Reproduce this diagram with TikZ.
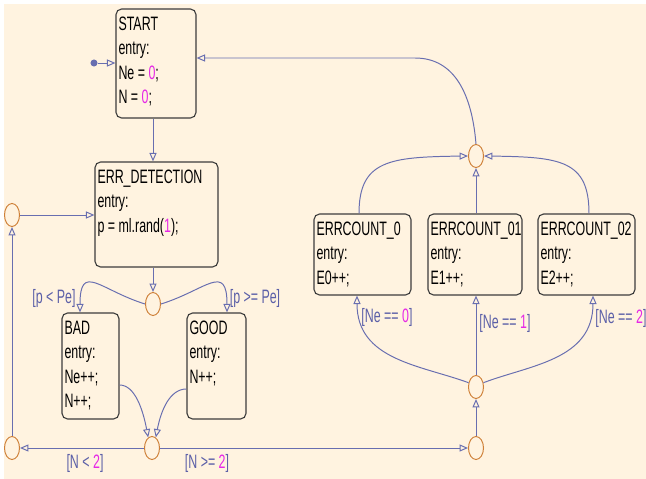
\documentclass[tikz,border=0pt]{standalone}
\usepackage{fontspec}
\setmainfont{Liberation Sans}[FakeStretch=0.64]
\usetikzlibrary{arrows.meta,shapes.geometric}
\definecolor{bg}{RGB}{255,243,224}
\definecolor{wire}{RGB}{104,110,176}
\definecolor{lbltext}{RGB}{92,96,168}
\definecolor{num}{RGB}{230,40,230}
\definecolor{jring}{RGB}{206,128,56}
\definecolor{frame}{RGB}{60,60,60}

\begin{document}
\begin{tikzpicture}[x=0.025cm,y=-0.025cm,
    font=\fontsize{13.8}{17.4}\selectfont,
    state/.style={draw=frame,line width=0.8pt,rounded corners=4pt,rectangle,inner sep=0pt},
    txt/.style={inner sep=1pt,align=left,anchor=north west},
    junc/.style={draw=jring,line width=0.7pt,ellipse,inner sep=0pt,minimum width=0.375cm,minimum height=0.575cm},
    tr/.style={draw=wire,line width=0.7pt,-{Triangle[open,length=6pt,width=5pt]}},
    lbl/.style={text=lbltext,inner sep=1pt}]
  \useasboundingbox (0,0) rectangle (646,479);
  \fill [bg] (4,4) rectangle (646,479);

  % states
  \node [state,minimum width=2cm,minimum height=2.725cm] (start) at (156,63.5) {};
  \node [txt] (start-t) at ([shift={(1pt,-4.7pt)}]start.north west)
    {START\\entry:\\Ne = \textcolor{num}{0};\\N = \textcolor{num}{0};};
  \node [state,minimum width=3.075cm,minimum height=2.625cm] (err) at (156.5,214.5) {};
  \node [txt] (err-t) at ([shift={(1pt,-4.7pt)}]err.north west)
    {ERR\_DETECTION\\entry:\\p = ml.rand(\textcolor{num}{1});};
  \node [state,minimum width=1.425cm,minimum height=2.65cm] (bad) at (90.5,366) {};
  \node [txt] (bad-t) at ([shift={(1pt,-4.7pt)}]bad.north west)
    {BAD\\entry:\\Ne++;\\N++;};
  \node [state,minimum width=1.475cm,minimum height=2.65cm] (good) at (216.5,366) {};
  \node [txt] (good-t) at ([shift={(1pt,-4.7pt)}]good.north west)
    {GOOD\\entry:\\N++;};
  \node [state,minimum width=2.425cm,minimum height=2.025cm] (e0) at (362.5,254.5) {};
  \node [txt] (e0-t) at ([shift={(1pt,-4.7pt)}]e0.north west)
    {ERRCOUNT\_0\\entry:\\E0++;};
  \node [state,minimum width=2.35cm,minimum height=2.025cm] (e1) at (475,254.5) {};
  \node [txt] (e1-t) at ([shift={(1pt,-4.7pt)}]e1.north west)
    {ERRCOUNT\_01\\entry:\\E1++;};
  \node [state,minimum width=2.425cm,minimum height=2.025cm] (e2) at (586.5,254.5) {};
  \node [txt] (e2-t) at ([shift={(1pt,-4.7pt)}]e2.north west)
    {ERRCOUNT\_02\\entry:\\E2++;};

  % junctions
  \node [junc] (jtr) at (476,156) {};
  \node [junc] (jlt) at (12,215) {};
  \node [junc] (jmid) at (153,304) {};
  \node [junc] (jbm) at (152,448) {};
  \node [junc] (jbl) at (12,448) {};
  \node [junc] (jbr) at (476,448) {};
  \node [junc] (jrm) at (476,387) {};
  \node [fill=wire,circle,inner sep=0pt,minimum size=5pt] (init) at (94,63) {};

  % transitions
  \draw [tr] (init) -- (start.west |- init);
  \draw [tr] (start.south -| jmid) -- (err.north -| jmid);
  \draw [tr] (err.south -| jmid) -- (jmid.north);
  \draw [tr] (jmid.west) .. controls (100,290) and (80,262) .. (bad.north -| 80,0);
  \draw [tr] (jmid.east) .. controls (206,290) and (227,262) .. (good.north -| 227,0);
  \node [lbl] (l-bad) at (54,298) {[p < Pe]};
  \node [lbl] (l-good) at (255,298) {[p >= Pe]};
  \draw [tr] (bad.east |- 0,385) .. controls (135,385) and (143,410) .. (jbm.110);
  \draw [tr] (good.west |- 0,389) .. controls (170,389) and (161,410) .. (jbm.70);
  \draw [tr] (jbm.west) -- (jbl.east);
  \draw [tr] (jbm.east) -- (jbr.west);
  \node [lbl] (l-lt) at (85,463) {[N < \textcolor{num}{2}]};
  \node [lbl] (l-ge) at (207,463) {[N >= \textcolor{num}{2}]};
  \draw [tr] (jbl.north) -- (jlt.south);
  \draw [tr] (jlt.east) -- (err.west |- jlt.east);
  \draw [tr] (jbr.north) -- (jrm.south);
  \draw [tr] (jrm.150) .. controls (420,365) and (357,360) .. (e0.south -| 357,0);
  \draw [tr] (jrm.north) -- (e1.south -| jrm);
  \draw [tr] (jrm.30) .. controls (530,365) and (593,360) .. (e2.south -| 593,0);
  \node [lbl] (l-ne0) at (387,317) {[Ne == \textcolor{num}{0}]};
  \node [lbl] (l-ne1) at (505,323) {[Ne == \textcolor{num}{1}]};
  \node [lbl] (l-ne2) at (621,318) {[Ne == \textcolor{num}{2}]};
  \draw [tr] (e0.north -| 359,0) .. controls (359,160) and (390,157) .. (jtr.west);
  \draw [tr] (e1.north -| jtr) -- (jtr.south);
  \draw [tr] (e2.north -| 589,0) .. controls (589,160) and (560,157) .. (jtr.east);
  \draw [tr] (jtr.north) .. controls (472,95) and (455,58) .. (415,58) -- (start.east |- 0,58);
\end{tikzpicture}
\end{document}
